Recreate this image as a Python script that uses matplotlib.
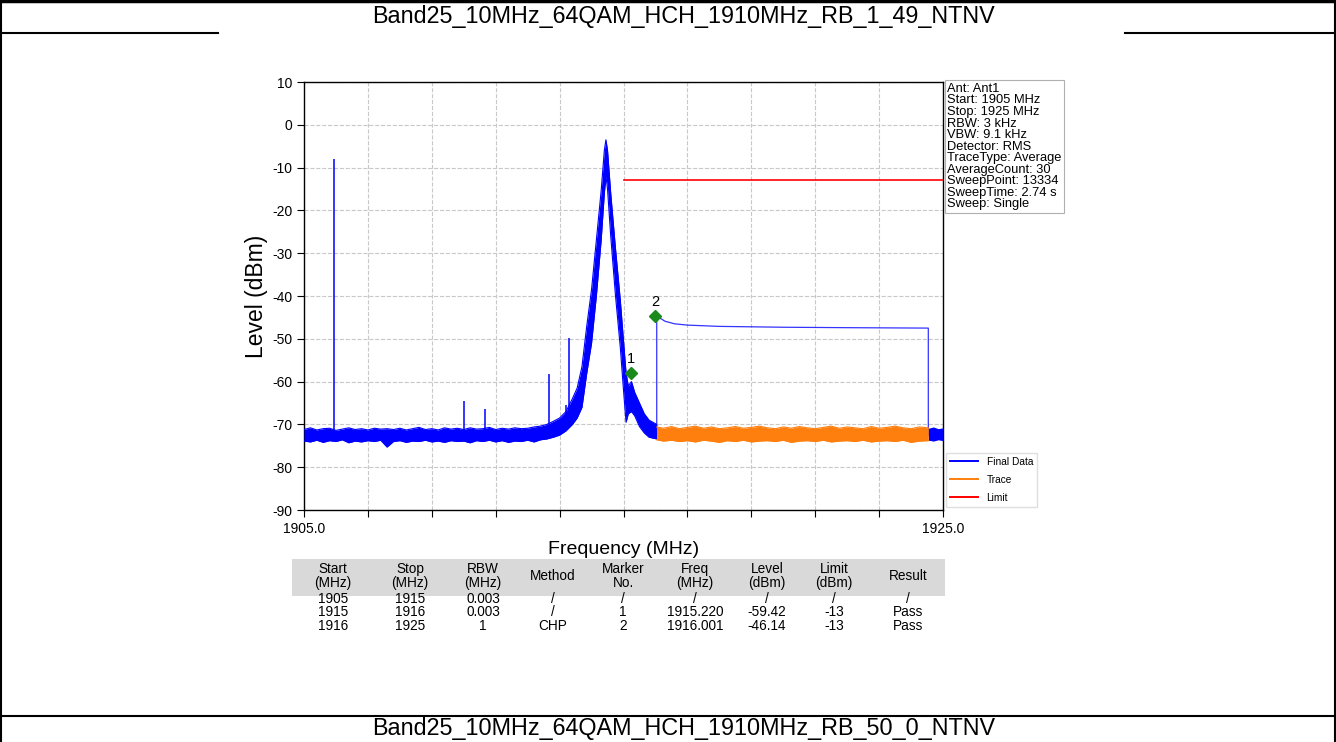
import numpy as np
import matplotlib
matplotlib.use("Agg")
import matplotlib.pyplot as plt

plt.rcParams["font.family"] = ["Liberation Sans", "DejaVu Sans"]
plt.rcParams["axes.unicode_minus"] = False

title_top = "Band25_10MHz_64QAM_HCH_1910MHz_RB_1_49_NTNV"
title_next = "Band25_10MHz_64QAM_HCH_1910MHz_RB_50_0_NTNV"

f_start, f_stop = 1905.0, 1925.0
y_min, y_max = -90, 10

# final data (blue), noise band read as upper/lower envelope
blue_f = [1905.0, 1905.2, 1905.4, 1905.6, 1905.8, 1906.0, 1906.2, 1906.4, 1906.6, 1906.8,
          1907.0, 1907.2, 1907.4, 1907.6, 1907.8, 1908.0, 1908.2, 1908.4, 1908.6, 1908.8,
          1909.0, 1909.2, 1909.4, 1909.6, 1909.8, 1910.0, 1910.2, 1910.4, 1910.6, 1910.8,
          1911.0, 1911.2, 1911.4, 1911.6, 1911.8, 1912.0, 1912.2, 1912.4, 1912.6, 1912.8,
          1913.0, 1913.2, 1913.4, 1913.55, 1913.7, 1913.85, 1914.0, 1914.15, 1914.3, 1914.4,
          1914.45, 1914.5, 1914.6, 1914.75, 1914.9, 1915.0, 1915.08, 1915.15, 1915.25, 1915.35,
          1915.5, 1915.65, 1915.8, 1916.04]
blue_hi = [-71.2, -70.8, -71.3, -71.0, -70.9, -71.4, -71.1, -70.8, -71.2, -71.0,
           -71.3, -70.9, -71.1, -71.0, -71.2, -70.9, -71.3, -71.0, -70.7, -71.2,
           -71.0, -71.3, -70.8, -71.1, -70.9, -71.2, -70.8, -71.1, -71.0, -70.7,
           -71.2, -70.9, -71.1, -70.8, -71.0, -70.9, -70.6, -70.4, -70.0, -69.3,
           -68.5, -67.0, -64.0, -61.5, -56.5, -47.0, -38.5, -27.0, -15.5, -6.0,
           -3.5, -6.0, -16.0, -29.0, -41.0, -50.5, -58.0, -61.0, -60.0, -62.5,
           -65.0, -67.5, -69.0, -70.0]
blue_lo = [-73.9, -74.1, -73.7, -74.2, -73.8, -74.0, -73.6, -74.3, -73.9, -74.1,
           -73.8, -74.0, -73.7, -75.3, -74.0, -73.8, -74.2, -73.9, -74.0, -73.7,
           -74.1, -73.9, -74.2, -73.8, -74.0, -73.9, -74.3, -73.8, -74.0, -73.7,
           -74.1, -73.8, -74.2, -73.9, -74.0, -73.7, -74.1, -73.6, -73.4, -73.0,
           -72.5, -71.5, -70.0, -68.5, -66.0, -58.0, -51.0, -40.0, -27.0, -16.0,
           -12.0, -15.0, -26.0, -40.0, -52.0, -62.0, -69.5, -67.5, -67.0, -68.0,
           -70.5, -72.0, -73.0, -73.4]

tail_f = [1924.54, 1924.7, 1924.85, 1925.0]
tail_hi = [-70.9, -70.6, -71.0, -70.8]
tail_lo = [-73.7, -73.9, -73.6, -73.8]

spur_f = [1905.95, 1910.0, 1910.67, 1912.68, 1913.2, 1913.3]
spur_top = [-8.1, -64.5, -66.5, -58.2, -65.5, -49.7]
spur_base = [-72.5, -72.5, -72.5, -72.0, -70.5, -70.0]

# channel power segment (1916-1925, RBW 1 MHz)
chp_f = [1916.04, 1916.04, 1916.3, 1916.6, 1917.0, 1918.0, 1920.0, 1922.0, 1924.54, 1924.54]
chp_lvl = [-72.5, -44.7, -45.9, -46.5, -46.8, -47.1, -47.3, -47.4, -47.5, -72.5]

# trace (orange)
trace_f = [1916.04, 1916.25, 1916.5, 1916.75, 1917.0, 1917.25, 1917.5, 1917.75, 1918.0, 1918.25,
           1918.5, 1918.75, 1919.0, 1919.25, 1919.5, 1919.75, 1920.0, 1920.25, 1920.5, 1920.75,
           1921.0, 1921.25, 1921.5, 1921.75, 1922.0, 1922.25, 1922.5, 1922.75, 1923.0, 1923.25,
           1923.5, 1923.75, 1924.0, 1924.25, 1924.54]
trace_hi = [-70.6, -70.9, -70.5, -71.0, -70.7, -70.4, -70.9, -70.6, -71.0, -70.8,
            -70.5, -70.9, -70.7, -70.4, -70.8, -71.0, -70.6, -70.9, -70.5, -70.8,
            -71.0, -70.7, -70.4, -70.9, -70.6, -70.8, -71.0, -70.5, -70.9, -70.7,
            -70.4, -70.8, -71.0, -70.6, -70.8]
trace_lo = [-73.6, -73.9, -73.7, -74.0, -73.8, -74.1, -73.7, -73.9, -74.2, -73.8,
            -74.0, -73.7, -74.1, -73.9, -73.8, -74.0, -73.7, -74.2, -73.9, -73.8,
            -74.0, -73.7, -74.1, -73.9, -73.8, -74.0, -73.7, -74.1, -73.9, -73.8,
            -74.0, -73.7, -74.2, -73.9, -73.8]

limit_f = [1915.0, 1925.0]
limit_lvl = [-13, -13]

marker_no = ["1", "2"]
marker_f = [1915.220, 1916.001]
marker_lvl = [-58.0, -44.7]

info = ["Ant: Ant1", "Start: 1905 MHz", "Stop: 1925 MHz", "RBW: 3 kHz", "VBW: 9.1 kHz",
        "Detector: RMS", "TraceType: Average", "AverageCount: 30", "SweepPoint: 13334",
        "SweepTime: 2.74 s", "Sweep: Single"]

tbl_head = ["Start\n(MHz)", "Stop\n(MHz)", "RBW\n(MHz)", "Method", "Marker\nNo.",
            "Freq\n(MHz)", "Level\n(dBm)", "Limit\n(dBm)", "Result"]
tbl_rows = [["1905", "1915", "0.003", "/", "/", "/", "/", "/", "/"],
            ["1915", "1916", "0.003", "/", "1", "1915.220", "-59.42", "-13", "Pass"],
            ["1916", "1925", "1", "CHP", "2", "1916.001", "-46.14", "-13", "Pass"]]

W, H = 1336, 742
fig = plt.figure(figsize=(W / 100, H / 100), dpi=100)

# page frame, titles and table drawn in pixel space
bg = fig.add_axes([0, 0, 1, 1])
bg.set_xlim(0, W)
bg.set_ylim(H, 0)
bg.axis("off")
bg.plot([0, W], [1, 1], color="black", lw=2.5)
bg.plot([1, 1], [0, H], color="black", lw=1.5)
bg.plot([W - 1.5, W - 1.5], [0, H], color="black", lw=1.5)
bg.plot([0, 218], [33, 33], color="black", lw=1.5)
bg.plot([1125, W], [33, 33], color="black", lw=1.5)
bg.plot([0, W], [716, 716], color="black", lw=1.5)
bg.text(683, 17, title_top, ha="center", va="center", fontsize=16.8)
bg.text(684, 729, title_next, ha="center", va="center", fontsize=16.8)

col_x = [333, 410, 483, 553, 623, 695, 767, 834, 908]
bg.add_patch(plt.Rectangle((292, 559), 653, 37, color="#d9d9d9", lw=0))
for x, h in zip(col_x, tbl_head):
    bg.text(x, 576, h, ha="center", va="center", fontsize=9.8, linespacing=0.95)
for row, y in zip(tbl_rows, [599, 612.5, 626]):
    for x, v in zip(col_x, row):
        bg.text(x, y, v, ha="center", va="center", fontsize=9.8)

# spectrum
ax = fig.add_axes([304 / W, 1 - 510 / H, 639 / W, 428 / H])
blue = "#0000ff"
orange = "#ff7f0e"

ax.fill_between(blue_f, blue_lo, blue_hi, color=blue, lw=0, zorder=3)
ax.plot(blue_f, blue_hi, color=blue, lw=0.8, zorder=3, label="Final Data")
ax.plot(blue_f, blue_lo, color=blue, lw=0.8, zorder=3)
ax.fill_between(tail_f, tail_lo, tail_hi, color=blue, lw=0, zorder=3)
ax.vlines(spur_f, spur_base, spur_top, color=blue, lw=1.1, zorder=3)
ax.plot(chp_f, chp_lvl, color=blue, lw=0.9, alpha=0.8, zorder=3)

ax.fill_between(trace_f, trace_lo, trace_hi, color=orange, lw=0, zorder=4)
ax.plot(trace_f, trace_hi, color=orange, lw=0.8, zorder=4, label="Trace")
ax.plot(trace_f, trace_lo, color=orange, lw=0.8, zorder=4)

ax.plot(limit_f, limit_lvl, color="#ff0000", lw=1.2, zorder=5, label="Limit")

ax.plot(marker_f, marker_lvl, "D", color="#1a8a1a", ms=6, zorder=6)
for n, f, l in zip(marker_no, marker_f, marker_lvl):
    ax.annotate(n, (f, l), xytext=(0, 5), textcoords="offset points",
                ha="center", va="bottom", fontsize=10.5)

ax.set_xlim(f_start, f_stop)
ax.set_ylim(y_min, y_max)
xt = np.arange(f_start, f_stop + 0.5, 2)
ax.set_xticks(xt)
ax.set_xticklabels([f"{v:.1f}" if v in (f_start, f_stop) else "" for v in xt])
ax.set_yticks(np.arange(y_min, y_max + 1, 10))
ax.tick_params(labelsize=10, length=5, direction="out")
ax.grid(True, ls="--", color="#c8c8c8", lw=0.8, zorder=0)
for s in ax.spines.values():
    s.set_color("black")
    s.set_linewidth(1.0)
ax.set_xlabel("Frequency (MHz)", fontsize=14, labelpad=4)
ax.set_ylabel("Level (dBm)", fontsize=16.5, labelpad=3)

ax.text(1.007, 0.998, "\n".join(info), transform=ax.transAxes, ha="left", va="top",
        fontsize=9.3, linespacing=0.95,
        bbox=dict(boxstyle="square,pad=0.2", facecolor="white", edgecolor="#b0b0b0", lw=0.8))

leg = ax.legend(loc="lower left", bbox_to_anchor=(1.0, 0.0), fontsize=7.3, frameon=True,
                fancybox=False, edgecolor="#d8d8d8", handlelength=2.8, borderaxespad=0.3,
                labelspacing=0.8)
for ln in leg.get_lines():
    ln.set_linewidth(1.4)

fig.savefig("out.png", dpi=100)
